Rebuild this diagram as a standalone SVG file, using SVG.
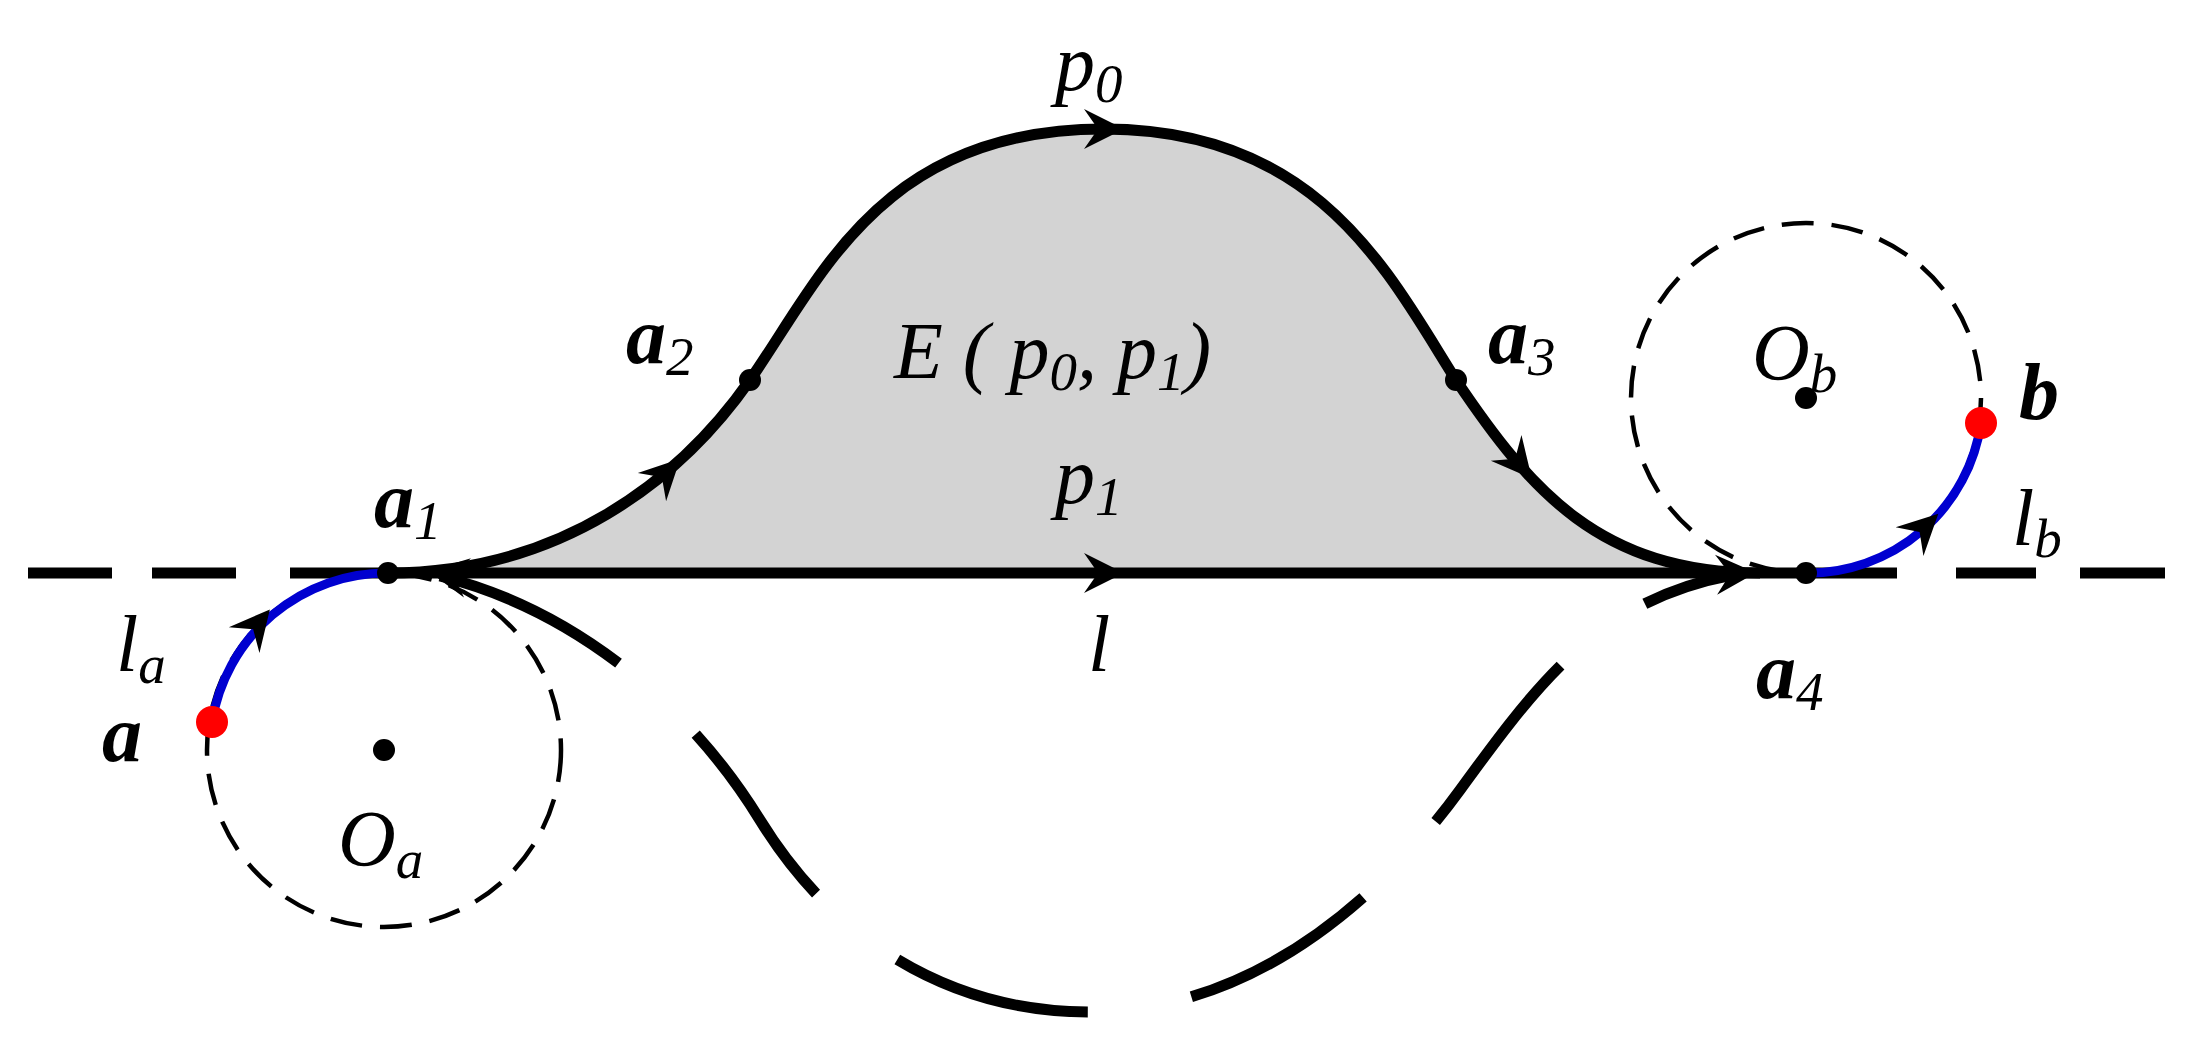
<svg xmlns="http://www.w3.org/2000/svg" width="2190" height="1064" viewBox="0 0 2190 1064">
<style>
text{font-family:"Liberation Serif","Times New Roman",serif;font-style:italic;font-size:80px;fill:#000}
.b{font-weight:bold}
.s{font-size:55px;font-weight:normal}
.thick{fill:none;stroke:#000;stroke-width:11}
.thin{fill:none;stroke:#000;stroke-width:4.5;stroke-dasharray:32 18}
.blue{fill:none;stroke:#0000d0;stroke-width:9}
</style>
<defs>
<path id="ah" d="M6,0 L-34,-20 L-20,0 L-34,20 Z" fill="#000"/>
</defs>
<g id="region">
<path d="M388,573 C560,573 680,480 750,380 C820,280 880,129 1104,129 C1320,129 1390,276 1456,380 C1530,490 1600,573 1760,573 Z" fill="#d3d3d3"/>
</g>
<g id="connectors">
<path d="M28,573H112M152,573H236" class="thick"/>
<path d="M1956,573H2036M2080,573H2165" class="thick"/>
<path d="M290,573H1897" class="thick"/>
<path d="M388,573 C560,573 680,480 750,380 C820,280 880,129 1104,129 C1320,129 1390,276 1456,380 C1530,490 1600,573 1760,573" class="thick"/>
<path d="M440,576 C560,606 680,690 760,820 C840,950 960,1012 1090,1012 C1250,1012 1380,900 1460,790 C1540,680 1600,600 1732,575" class="thick" stroke-dasharray="200 105"/>
<circle cx="384" cy="750" r="177" class="thin"/>
<circle cx="1806" cy="398" r="175" class="thin"/>
<path d="M212,722 A177,177 0 0 1 388,573" class="blue"/>
<path d="M1806,573 A175,175 0 0 0 1981,423" class="blue"/>
<use href="#ah" transform="translate(1118,129)"/>
<use href="#ah" transform="translate(1118,573)"/>
<use href="#ah" transform="translate(676,463) rotate(-45)"/>
<use href="#ah" transform="translate(1528,474) rotate(50)"/>
<use href="#ah" transform="translate(1750,573) rotate(-3)"/>
<use href="#ah" transform="translate(434,572) rotate(190)"/>
<use href="#ah" transform="translate(266,614) rotate(-50)"/>
<use href="#ah" transform="translate(1934,518) rotate(-44)"/>
</g>
<g id="points">
<circle cx="388" cy="573" r="11"/>
<circle cx="750" cy="380" r="11"/>
<circle cx="1456" cy="380" r="11"/>
<circle cx="1806" cy="573" r="11"/>
<circle cx="384" cy="750" r="11"/>
<circle cx="1806" cy="398" r="11"/>
<circle cx="212" cy="722" r="16" fill="#f00"/>
<circle cx="1981" cy="423" r="16" fill="#f00"/>
</g>
<g id="labels">
<text x="1055" y="90">p<tspan class="s" dy="12">0</tspan></text>
<text x="894" y="378">E ( p<tspan class="s" dy="12">0</tspan><tspan dy="-12">, p</tspan><tspan class="s" dy="12">1</tspan><tspan dy="-12">)</tspan></text>
<text x="626" y="363" class="b">a<tspan class="s" dy="12">2</tspan></text>
<text x="1488" y="363" class="b">a<tspan class="s" dy="12">3</tspan></text>
<text x="1752" y="380">O<tspan class="s" dy="12">b</tspan></text>
<text x="2019" y="419" class="b">b</text>
<text x="1055" y="503">p<tspan class="s" dy="12">1</tspan></text>
<text x="2012" y="545">l<tspan class="s" dy="12">b</tspan></text>
<text x="374" y="527" class="b">a<tspan class="s" dy="12">1</tspan></text>
<text x="116" y="671">l<tspan class="s" dy="12">a</tspan></text>
<text x="1088" y="671">l</text>
<text x="1756" y="698" class="b">a<tspan class="s" dy="12">4</tspan></text>
<text x="102" y="761" class="b">a</text>
<text x="338" y="866">O<tspan class="s" dy="12">a</tspan></text>
</g>
</svg>
